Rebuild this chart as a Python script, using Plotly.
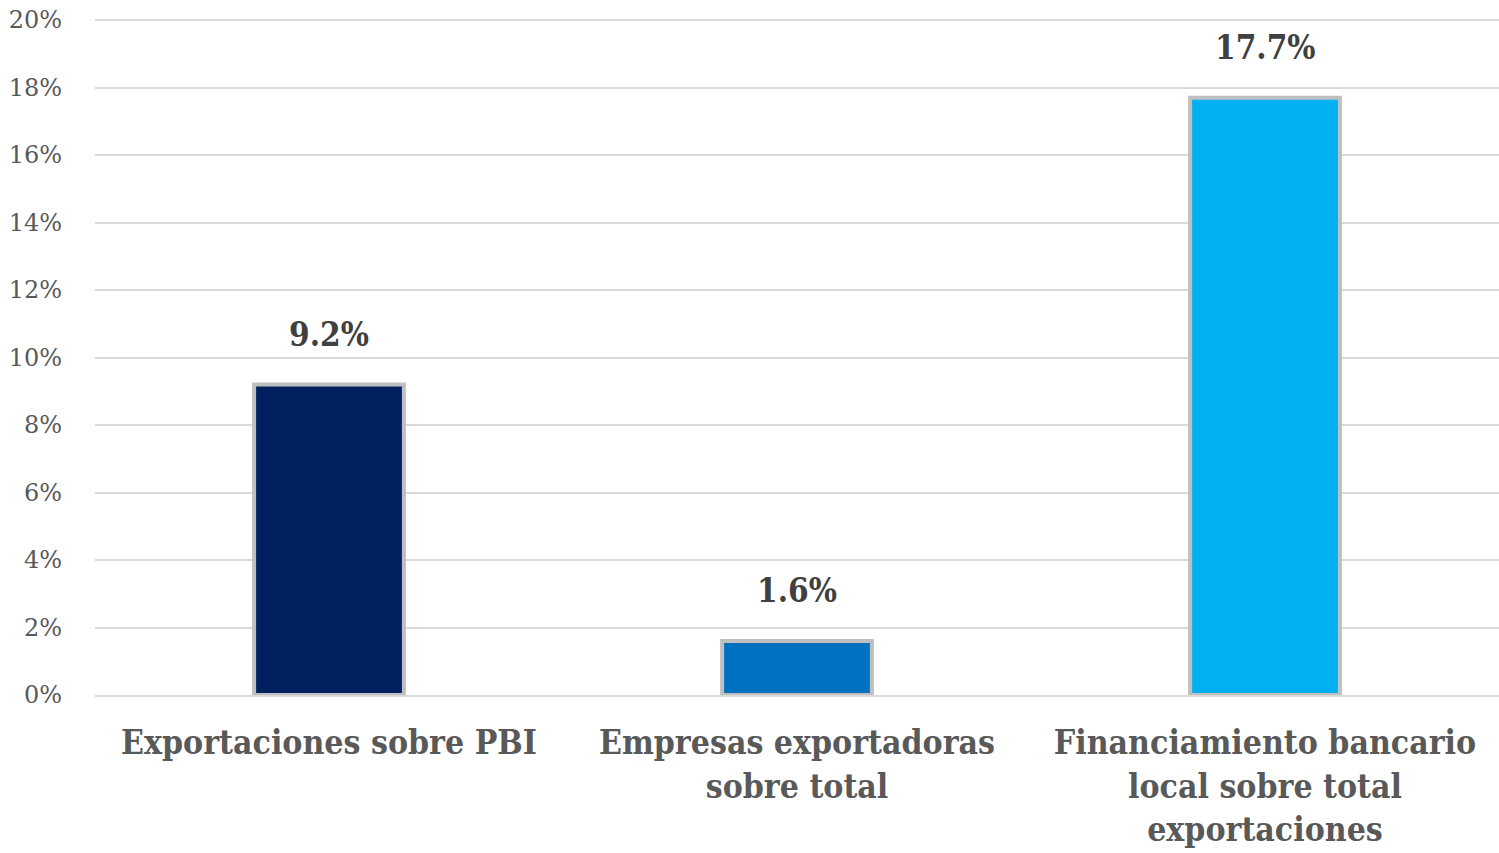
import plotly.graph_objects as go

categories = ["Exportaciones sobre PBI", "Empresas exportadoras<br>sobre total", "Financiamiento bancario<br>local sobre total<br>exportaciones"]
values = [9.2, 1.6, 17.7]
colors = ["#002060", "#0070C0", "#00B0F0"]
tick_vals = [0, 2, 4, 6, 8, 10, 12, 14, 16, 18, 20]
tick_text = [f"{v}%" for v in tick_vals]

font_family = "DejaVu Serif, Liberation Serif, serif"
cond_family = "DejaVu Serif Condensed, DejaVu Serif, serif"

fig = go.Figure(go.Bar(
    x=categories, y=values,
    marker=dict(color=colors, line=dict(color="#BFBFBF", width=4)),
    cliponaxis=False,
))

for c, v in zip(categories, values):
    fig.add_annotation(x=c, y=v, text=f"{v:.1f}%", showarrow=False,
                       yanchor="bottom", yshift=29,
                       font=dict(family=cond_family, size=33, color="#404040",
                                 weight="bold"))

fig.update_layout(
    width=1499, height=853,
    margin=dict(l=95, r=0, t=19, b=158),
    paper_bgcolor="white", plot_bgcolor="white",
    bargap=0.68,
    showlegend=False,
    font=dict(family=font_family),
    yaxis=dict(range=[0, 20.03], tickvals=tick_vals, ticktext=tick_text,
               gridcolor="#D9D9D9", gridwidth=2, zeroline=False,
               tickfont=dict(size=24, color="#595959", family=font_family),
               ticklabelstandoff=32, showline=False, ticklabeloverflow="allow"),
    xaxis=dict(tickfont=dict(size=33.5, color="#595959", family=cond_family,
                             weight="bold"),
               showline=True, linecolor="#D9D9D9", linewidth=2, ticks="",
               ticklabelstandoff=17),
)

fig.write_html("out.html",
               config={"displayModeBar": False},
               post_script="document.body.style.margin='0';document.body.style.overflow='hidden';")
